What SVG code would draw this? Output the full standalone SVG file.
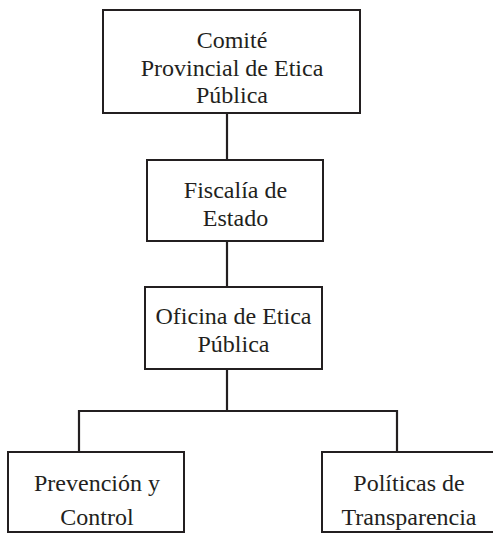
<svg xmlns="http://www.w3.org/2000/svg" width="493" height="533" viewBox="0 0 493 533">
<style>
.box{fill:#fff;stroke:#231f20;stroke-width:2}
.lbl{font-family:"Liberation Serif","Times New Roman",serif;font-size:24px;fill:#231f20;text-anchor:middle}
.con{fill:none;stroke:#231f20;stroke-width:2.2}
</style>
<rect width="493" height="533" fill="#fff"/>
<g id="connectors">
<line class="con" x1="227" y1="113" x2="227" y2="160"/>
<line class="con" x1="227" y1="241" x2="227" y2="287"/>
<line class="con" x1="227" y1="369" x2="227" y2="411"/>
<polyline class="con" points="79,452 79,411 397,411 397,453"/>
</g>
<g id="n1">
<rect class="box" x="103" y="10" width="257" height="103"/>
<text class="lbl" x="232" y="48">Comité</text>
<text class="lbl" x="232" y="75.5">Provincial de Etica</text>
<text class="lbl" x="232" y="103">Pública</text>
</g>
<g id="n2">
<rect class="box" x="147" y="160" width="176" height="81"/>
<text class="lbl" x="235.5" y="198">Fiscalía de</text>
<text class="lbl" x="235.5" y="226">Estado</text>
</g>
<g id="n3">
<rect class="box" x="145" y="287" width="177" height="82"/>
<text class="lbl" x="233.5" y="324">Oficina de Etica</text>
<text class="lbl" x="233.5" y="352">Pública</text>
</g>
<g id="n4">
<rect class="box" x="8" y="452" width="176" height="80"/>
<text class="lbl" x="97" y="491">Prevención y</text>
<text class="lbl" x="97" y="525">Control</text>
</g>
<g id="n5">
<rect class="box" x="322" y="452" width="176" height="80"/>
<text class="lbl" x="409" y="491">Políticas de</text>
<text class="lbl" x="409" y="525">Transparencia</text>
</g>
</svg>
